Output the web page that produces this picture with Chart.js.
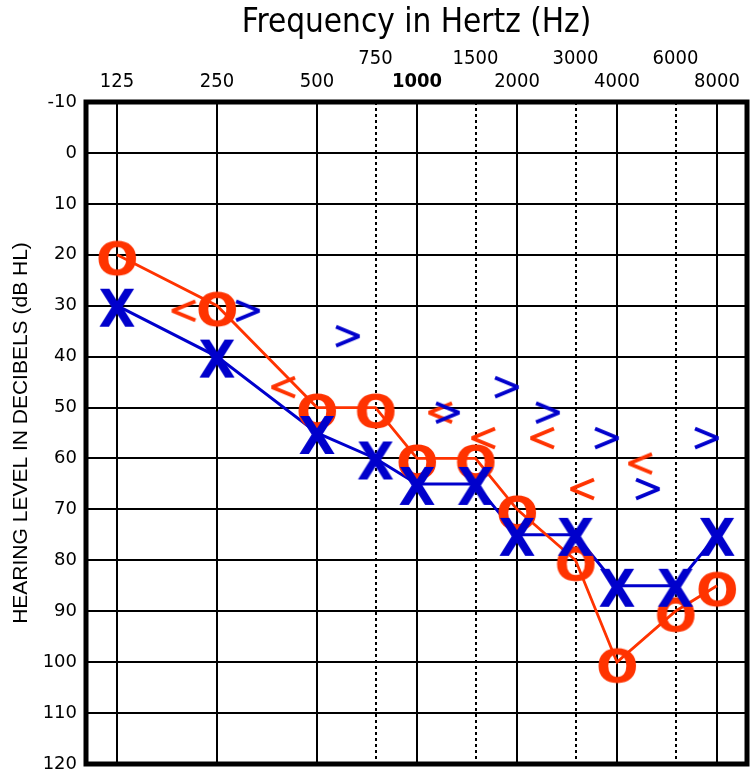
<!DOCTYPE html>
<html>
<head>
  <style>
    body { margin: 0; background: #fff; }
    #chart { display: block; }
  </style>
  <script src="https://cdn.jsdelivr.net/npm/chart.js@4"></script>
</head>
<body>
  <canvas id="chart" width="755" height="771"></canvas>

  <script>
    // Audiogram values
    const freqs = [125, 250, 500, 750, 1000, 1500, 2000, 3000, 4000, 6000, 8000];
    const rightAir = [20, 30, 50, 50, 60, 60, 70, 80, 100, 90, 85];   // red O
    const leftAir = [30, 40, 55, 60, 65, 65, 75, 75, 85, 85, 75];     // blue X

    // bone conduction marks (placed beside the frequency lines)
    const rightBoneFreq = [198, 395, 1173, 1580, 2378, 3138, 4690];   // red <
    const rightBoneDb = [31, 46, 51, 56, 56, 66, 61];
    const leftBoneFreq = [310, 620, 1240, 1866, 2480, 3732, 4960, 7464]; // blue >
    const leftBoneDb = [31, 36, 51, 46, 51, 56, 66, 56];

    const octaveTicks = [125, 250, 500, 1000, 2000, 4000, 8000];
    const midTicks = [750, 1500, 3000, 6000];

    const RED = "#ff3300";
    const BLUE = "#0000cc";
    const NARROW = "'DejaVu Sans Condensed', 'DejaVu Sans', sans-serif";

    // text glyph as a point style, scaled to a box and centred
    function glyph(ch, color, w, h, dy) {
      const c = document.createElement("canvas");
      c.width = w + 8;
      c.height = h + 8 + Math.abs(dy) * 2;
      const g = c.getContext("2d");
      g.font = "bold 100px 'DejaVu Sans', sans-serif";
      const m = g.measureText(ch);
      const bw = m.actualBoundingBoxLeft + m.actualBoundingBoxRight;
      const bh = m.actualBoundingBoxAscent + m.actualBoundingBoxDescent;
      g.translate(c.width / 2, c.height / 2 + dy);
      g.scale(w / bw, h / bh);
      g.fillStyle = color;
      g.fillText(ch, -(m.actualBoundingBoxRight - m.actualBoundingBoxLeft) / 2,
        (m.actualBoundingBoxAscent - m.actualBoundingBoxDescent) / 2);
      return c;
    }

    // chevron for bone conduction marks
    function chevron(dir, color) {
      const c = document.createElement("canvas");
      c.width = 30;
      c.height = 26;
      const g = c.getContext("2d");
      g.strokeStyle = color;
      g.lineWidth = 4;
      g.lineJoin = "miter";
      g.miterLimit = 2;
      g.beginPath();
      if (dir === ">") {
        g.moveTo(3, 3.5); g.lineTo(26, 13); g.lineTo(3, 22.5);
      } else {
        g.moveTo(27, 3.5); g.lineTo(4, 13); g.lineTo(27, 22.5);
      }
      g.stroke();
      return c;
    }

    const oMark = glyph("O", RED, 38, 35, 3);
    const xMark = glyph("X", BLUE, 36, 38, 2);
    const ltMark = chevron("<", RED);
    const gtMark = chevron(">", BLUE);

    const pts = (xs, ys) => xs.map((f, i) => ({ x: f, y: ys[i] }));

    // thick frame round the plot
    const frame = {
      id: "frame",
      beforeDatasetsDraw(chart) {
        const { ctx, chartArea: a } = chart;
        ctx.save();
        ctx.lineWidth = 5;
        ctx.strokeStyle = "#000";
        ctx.strokeRect(a.left, a.top, a.right - a.left, a.bottom - a.top);
        ctx.restore();
      }
    };

    // fixed box sizes, no label overflow padding
    function fixBox(w, h) {
      return s => {
        if (w) s.width = w;
        if (h) s.height = h;
        s.paddingTop = 0; s.paddingBottom = 0;
        s.paddingLeft = 0; s.paddingRight = 0;
      };
    }

    const ctx = document.getElementById("chart").getContext("2d");
    const chart = new Chart(ctx, {
      type: "scatter",
      data: {
        datasets: [
          { // left air line
            data: pts(freqs, leftAir), showLine: true, borderColor: BLUE, borderWidth: 3,
            pointRadius: 0, order: 10
          },
          { // right air line
            data: pts(freqs, rightAir), showLine: true, borderColor: RED, borderWidth: 2.8,
            pointRadius: 0, order: 9
          },
          {
            data: pts(rightBoneFreq, rightBoneDb), pointStyle: ltMark, pointRadius: 10, order: 8
          },
          {
            data: pts(leftBoneFreq, leftBoneDb), pointStyle: gtMark, pointRadius: 10, order: 7
          },
          {
            data: pts(freqs, rightAir), pointStyle: oMark, pointRadius: 10, order: 6
          },
          {
            data: pts(freqs, leftAir), pointStyle: xMark, pointRadius: 10, order: 5
          }
        ]
      },
      options: {
        responsive: false,
        animation: false,
        events: [],
        layout: { autoPadding: false, padding: { left: 0, top: 0, right: 8, bottom: 7 } },
        plugins: {
          legend: { display: false },
          tooltip: { enabled: false }
        },
        scales: {
          x: {
            type: "logarithmic",
            position: "top",
            min: 100.8,
            max: 9849,
            weight: 0,
            afterBuildTicks: s => { s.ticks = octaveTicks.map(v => ({ value: v })); },
            afterFit: fixBox(0, 31),
            grid: { color: "#000", lineWidth: 2, drawTicks: false },
            border: { display: false },
            ticks: {
              autoSkip: false,
              maxRotation: 0,
              minRotation: 0,
              padding: 8,
              color: "#000",
              font: c => ({ family: NARROW, size: 20, weight: c.tick && c.tick.value === 1000 ? "bold" : "normal" }),
              callback: v => String(v)
            }
          },
          x2: {
            type: "logarithmic",
            position: "top",
            min: 100.8,
            max: 9849,
            weight: 1,
            afterBuildTicks: s => { s.ticks = midTicks.map(v => ({ value: v })); },
            afterFit: fixBox(0, 71),
            grid: { color: "#000", lineWidth: 2, drawTicks: false },
            border: { display: false, dash: [3, 3] },
            ticks: {
              autoSkip: false,
              maxRotation: 0,
              minRotation: 0,
              padding: 0,
              color: "#000",
              font: { family: NARROW, size: 20 },
              callback: v => String(v)
            },
            title: {
              display: true,
              text: "Frequency in Hertz (Hz)",
              color: "#000",
              font: { family: NARROW, size: 33 },
              padding: { top: 4, bottom: 0 }
            }
          },
          y: {
            min: -10,
            max: 120,
            reverse: true,
            afterFit: fixBox(86, 0),
            grid: { color: "#000", lineWidth: 2, drawTicks: false },
            border: { display: false },
            ticks: {
              stepSize: 10,
              padding: 9,
              color: "#000",
              font: { family: "'DejaVu Sans', sans-serif", size: 18 }
            },
            title: {
              display: true,
              text: "HEARING LEVEL IN DECIBELS (dB HL)",
              color: "#000",
              font: { family: "'Liberation Sans', Arial, sans-serif", size: 21 },
              padding: { top: 9 }
            }
          }
        }
      },
      plugins: [frame]
    });
  </script>
</body>
</html>
